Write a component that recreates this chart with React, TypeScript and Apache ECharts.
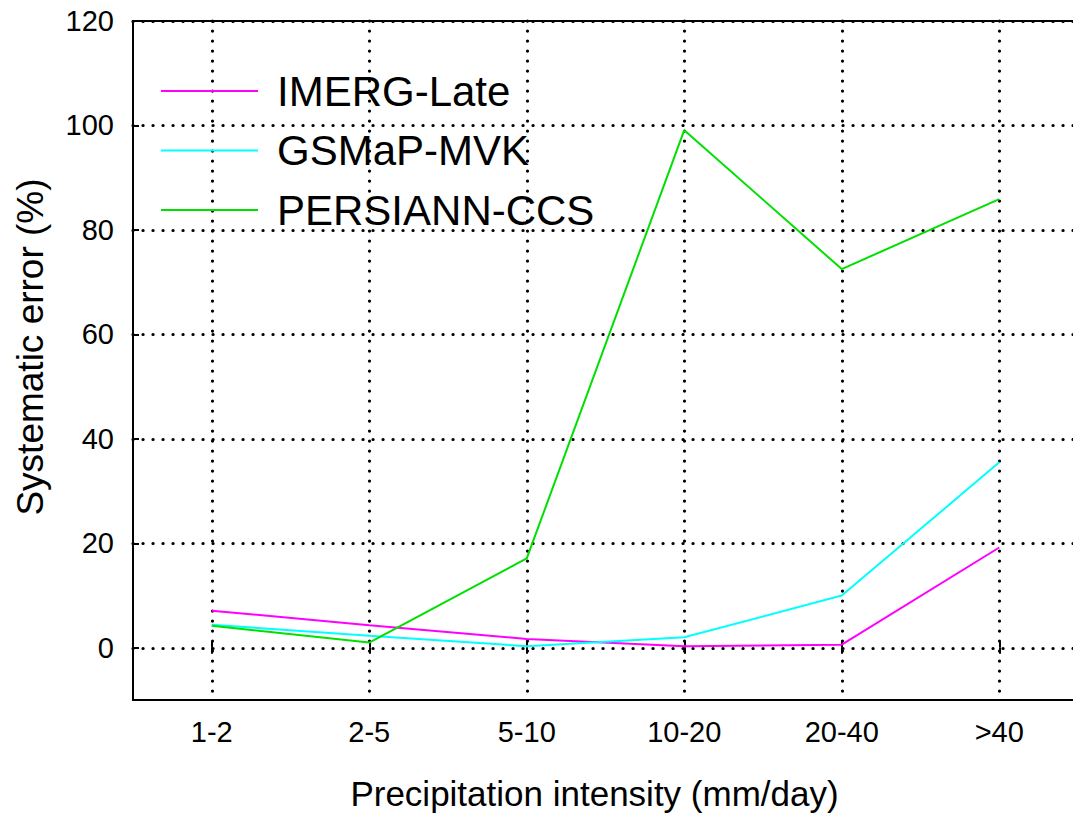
import React, { useEffect, useRef } from "react";
import * as echarts from "echarts";

const categories = ["1-2", "2-5", "5-10", "10-20", "20-40", ">40"];
const imergLate = [7.1, 4.3, 1.7, 0.3, 0.6, 19.2];
const gsmapMvk = [4.4, 2.3, 0.3, 2.0, 10.0, 35.5];
const persiannCcs = [4.2, 1.0, 17.1, 99.1, 72.5, 85.9];
const yTicks = [0, 20, 40, 60, 80, 100, 120];

const FONT = "'Liberation Sans', Arial, sans-serif";
const dotted = { color: "#000", width: 3.2, type: [0.1, 9.9] as number[], cap: "round" as const };

export default function App() {
  const ref = useRef<HTMLDivElement>(null);
  useEffect(() => {
    if (!ref.current) return;
    const chart = echarts.init(ref.current, undefined, { renderer: "svg" });
    const lineSeries = (name: string, data: number[], color: string) => ({
      name,
      type: "line",
      data,
      symbol: "none",
      lineStyle: { color, width: 2 },
      itemStyle: { color },
    });
    chart.setOption({
      animation: false,
      backgroundColor: "#fff",
      textStyle: { fontFamily: FONT },
      grid: {
        left: 133,
        top: 21,
        right: 1,
        bottom: 125,
        show: true,
        borderColor: "#000",
        borderWidth: 2,
      },
      legend: {
        orient: "vertical",
        left: 156,
        top: 65,
        itemWidth: 97,
        itemHeight: 2,
        itemGap: 17.5,
        icon: "rect",
        data: ["IMERG-Late", "GSMaP-MVK", "PERSIANN-CCS"],
        textStyle: { fontSize: 42, fontFamily: FONT, color: "#000", lineHeight: 42, padding: [0, 0, 0, 14] },
        backgroundColor: "transparent",
      },
      xAxis: [
        {
          type: "category",
          data: categories,
          boundaryGap: true,
          position: "bottom",
          axisLine: { show: false },
          axisTick: { show: true, inside: true, alignWithLabel: true, length: 6, lineStyle: { color: "#000", width: 2 } },
          axisLabel: { color: "#000", fontSize: 29, margin: 17, fontFamily: FONT },
          splitLine: { show: true, alignWithLabel: true, lineStyle: dotted },
          name: "Precipitation intensity (mm/day)",
          nameLocation: "middle",
          nameGap: 76,
          nameTextStyle: { fontSize: 35, color: "#000", fontFamily: FONT, padding: [0, 22, 0, 0] },
        },
        {
          type: "category",
          data: categories,
          boundaryGap: true,
          position: "top",
          axisLine: { show: false },
          axisTick: { show: true, inside: true, alignWithLabel: true, length: 6, lineStyle: { color: "#000", width: 2 } },
          axisLabel: { show: false },
          splitLine: { show: false },
        },
      ],
      yAxis: [
        {
          type: "value",
          min: -10,
          max: 120,
          position: "left",
          axisLine: { show: false },
          axisTick: { show: true, inside: true, length: 6, customValues: yTicks, lineStyle: { color: "#000", width: 2 } },
          axisLabel: { color: "#000", fontSize: 29, margin: 19, customValues: yTicks, fontFamily: FONT },
          splitLine: { show: true, lineStyle: dotted },
        },
        {
          type: "value",
          min: -10,
          max: 120,
          position: "right",
          axisLine: { show: false },
          axisTick: { show: true, inside: true, length: 6, customValues: yTicks, lineStyle: { color: "#000", width: 2 } },
          axisLabel: { show: false },
          splitLine: { show: false },
        },
      ],
      graphic: [
        {
          type: "text",
          x: 30,
          y: 347,
          rotation: Math.PI / 2,
          style: {
            text: "Systematic error (%)",
            fontSize: 37,
            fontFamily: FONT,
            fill: "#000",
            textAlign: "center",
            textVerticalAlign: "middle",
          },
        },
      ],
      series: [
        lineSeries("IMERG-Late", imergLate, "#ff00ff"),
        lineSeries("GSMaP-MVK", gsmapMvk, "#00ffff"),
        lineSeries("PERSIANN-CCS", persiannCcs, "#00e000"),
      ],
    });
    return () => chart.dispose();
  }, []);
  return (
    <div
      style={{ position: "absolute", left: 0, top: 0, width: 1073, height: 825, overflow: "hidden", background: "#fff" }}
    >
      <div ref={ref} style={{ width: 1079, height: 825 }} />
    </div>
  );
}
